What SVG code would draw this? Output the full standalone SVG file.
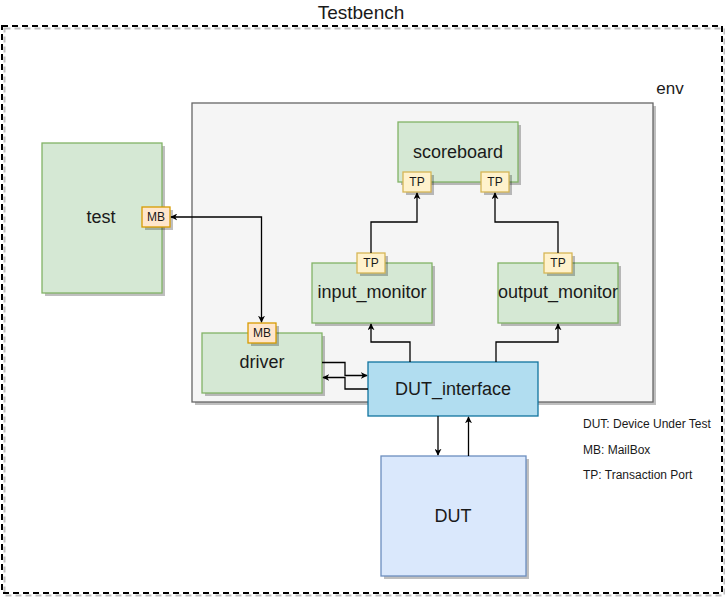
<svg xmlns="http://www.w3.org/2000/svg" width="725" height="598" viewBox="0 0 725 598">
<style>
text{font-family:"Liberation Sans",Arial,sans-serif;fill:#1a1a1a;text-anchor:middle;dominant-baseline:central}
.big{font-size:18px}
.small{font-size:12px}
.legend{font-size:12px;text-anchor:start}
.sh{fill:#000;opacity:0.25}
.green{fill:#d5e8d4;stroke:#82b366;stroke-width:1.3}
.tp{fill:#fff2cc;stroke:#d6b656;stroke-width:1.3}
.mb{fill:#ffe6cc;stroke:#d79b00;stroke-width:1.3}
.conn path{fill:none;stroke:#000;stroke-width:1.3}
</style>
<defs>
<marker id="arr" viewBox="0 0 10 10" refX="9" refY="5" markerWidth="7" markerHeight="7" markerUnits="userSpaceOnUse" orient="auto-start-reverse">
<path d="M0,0 L10,5 L0,10 L3,5 z" fill="#000"/>
</marker>
</defs>
<rect width="725" height="598" fill="#fff"/>
<g id="testbench">
<rect x="4.5" y="28.5" width="720" height="567" fill="none" stroke="#000" stroke-opacity="0.25" stroke-width="2" stroke-dasharray="6 4"/>
<rect x="2" y="26" width="720" height="567" fill="none" stroke="#000" stroke-width="2" stroke-dasharray="6 4"/>
<text x="361" y="12" style="font-size:19px">Testbench</text>
</g>
<g id="env">
<rect class="sh" x="195" y="106" width="461" height="299"/>
<rect x="192" y="103" width="461" height="299" fill="#f5f5f5" stroke="#666" stroke-width="1.3"/>
<text x="670" y="88" style="font-size:17px">env</text>
</g>
<g id="test">
<rect class="sh" x="45" y="146" width="120" height="150"/>
<rect class="green" x="42" y="143" width="120" height="150"/>
<text class="big" x="101" y="217">test</text>
<rect class="sh" x="145" y="210" width="28" height="20"/>
<rect class="mb" x="142" y="207" width="28" height="20"/>
<text class="small" x="156" y="217">MB</text>
</g>
<g id="scoreboard">
<rect class="sh" x="401" y="125" width="120" height="60"/>
<rect class="green" x="398" y="122" width="120" height="60"/>
<text class="big" x="458" y="152">scoreboard</text>
<rect class="sh" x="406" y="175" width="28" height="20"/>
<rect class="tp" x="403" y="172" width="28" height="20"/>
<text class="small" x="417" y="182">TP</text>
<rect class="sh" x="484" y="175" width="28" height="20"/>
<rect class="tp" x="481" y="172" width="28" height="20"/>
<text class="small" x="495" y="182">TP</text>
</g>
<g id="input_monitor">
<rect class="sh" x="315" y="266" width="120" height="60"/>
<rect class="green" x="312" y="263" width="120" height="60"/>
<text class="big" x="372" y="292">input_monitor</text>
<rect class="sh" x="360" y="256" width="28" height="20"/>
<rect class="tp" x="357" y="253" width="28" height="20"/>
<text class="small" x="371" y="263">TP</text>
</g>
<g id="output_monitor">
<rect class="sh" x="501" y="266" width="120" height="60"/>
<rect class="green" x="498" y="263" width="120" height="60"/>
<text class="big" x="558" y="292">output_monitor</text>
<rect class="sh" x="547" y="256" width="28" height="20"/>
<rect class="tp" x="544" y="253" width="28" height="20"/>
<text class="small" x="558" y="263">TP</text>
</g>
<g id="driver">
<rect class="sh" x="205" y="336" width="120" height="60"/>
<rect class="green" x="202" y="333" width="120" height="60"/>
<text class="big" x="262" y="362">driver</text>
<rect class="sh" x="251" y="326" width="28" height="20"/>
<rect class="mb" x="248" y="323" width="28" height="20"/>
<text class="small" x="262" y="333">MB</text>
</g>
<g id="dut_interface">
<rect x="368" y="362" width="170" height="54" fill="#b1ddf0" stroke="#10739e" stroke-width="1.3"/>
<text class="big" x="453" y="389">DUT_interface</text>
</g>
<g id="dut">
<rect class="sh" x="384" y="459" width="145" height="120"/>
<rect x="381" y="456" width="145" height="120" fill="#dae8fc" stroke="#6c8ebf" stroke-width="1.3"/>
<text class="big" x="453" y="516">DUT</text>
</g>
<g id="connectors" class="conn">
<path d="M261.5,322 L261.5,217 L171,217" marker-start="url(#arr)" marker-end="url(#arr)"/>
<path d="M371,253 L371,222 L417,222 L417,193" marker-end="url(#arr)"/>
<path d="M558,253 L558,222 L495,222 L495,193" marker-end="url(#arr)"/>
<path d="M410,362 L410,342 L371,342 L371,324" marker-end="url(#arr)"/>
<path d="M496,362 L496,342 L558,342 L558,324" marker-end="url(#arr)"/>
<path d="M322,362.5 L345,362.5 L345,375.5 L367,375.5" marker-end="url(#arr)"/>
<path d="M368,389 L345,389 L345,377.5 L323,377.5" marker-end="url(#arr)"/>
<path d="M438,416 L438,455" marker-end="url(#arr)"/>
<path d="M468.5,456 L468.5,417" marker-end="url(#arr)"/>
</g>
<g id="legend">
<text class="legend" x="583" y="424">DUT: Device Under Test</text>
<text class="legend" x="583" y="450">MB: MailBox</text>
<text class="legend" x="583" y="475">TP: Transaction Port</text>
</g>
</svg>
